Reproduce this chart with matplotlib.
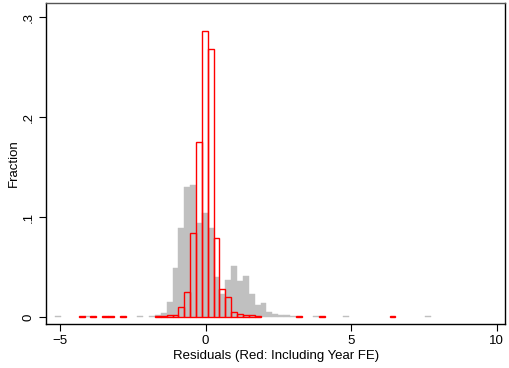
import numpy as np
import matplotlib
matplotlib.use("Agg")
import matplotlib.pyplot as plt

plt.rcParams["font.family"] = ["Liberation Sans", "DejaVu Sans"]

# --- Data ---
bin_start = -0.127
bin_width = 0.2015

# gray histogram: residuals without year FE
gray_bins = [-25, -20, -11, -9, -8, -7, -6, -5, -4, -3, -2, -1, 0, 1, 2, 3, 4,
             5, 6, 7, 8, 9, 10, 11, 12, 13, 14, 15, 19, 24, 38]
gray_frac = [0.001, 0.001, 0.001, 0.001, 0.002, 0.004, 0.015, 0.049, 0.089,
             0.130, 0.132, 0.094, 0.104, 0.089, 0.040, 0.023, 0.037, 0.051,
             0.036, 0.041, 0.023, 0.012, 0.014, 0.005, 0.003, 0.002, 0.002,
             0.001, 0.001, 0.001, 0.001]

# red histogram: residuals including year FE
red_bins = [-21, -19, -17, -16, -14, -8, -7, -6, -5, -4, -3, -2, -1, 0, 1, 2,
            3, 4, 5, 6, 7, 8, 9, 16, 20, 32]
red_frac = [0.001, 0.001, 0.001, 0.001, 0.001, 0.001, 0.001, 0.002, 0.002,
            0.010, 0.025, 0.084, 0.175, 0.286, 0.268, 0.079, 0.028, 0.020,
            0.005, 0.003, 0.002, 0.002, 0.001, 0.001, 0.001, 0.001]

x_ticks = [-5, 0, 5, 10]
y_ticks = [0, 0.1, 0.2, 0.3]
y_labels = ["0", ".1", ".2", ".3"]

gray_left = bin_start + np.array(gray_bins) * bin_width
red_left = bin_start + np.array(red_bins) * bin_width

# --- Plot ---
fig = plt.figure(figsize=(5.1, 3.68), dpi=100)
ax = fig.add_axes([0.0902, 0.1196, 0.9008, 0.8722])

ax.bar(gray_left, gray_frac, width=bin_width, align="edge",
       color="#c0c0c0", edgecolor="#c0c0c0", linewidth=0.3)
ax.bar(red_left, red_frac, width=bin_width, align="edge",
       facecolor="none", edgecolor="#ff0000", linewidth=1.0)

ax.set_xlim(-5.48, 10.3)
ax.set_ylim(-0.007, 0.314)
ax.set_xticks(x_ticks)
ax.set_yticks(y_ticks)
ax.set_yticklabels(y_labels, rotation=90, va="center")
ax.tick_params(direction="out", length=5, width=0.8, labelsize=9.5, pad=3)

for side in ["left", "bottom", "right"]:
    ax.spines[side].set_linewidth(1.0)
    ax.spines[side].set_color("black")
ax.spines["top"].set_linewidth(1.0)
ax.spines["top"].set_color("#555555")

ax.set_xlabel("Residuals (Red: Including Year FE)", fontsize=9.5, labelpad=2)
ax.set_ylabel("Fraction", fontsize=9.5, labelpad=2)

fig.savefig("out.png", dpi=100)
